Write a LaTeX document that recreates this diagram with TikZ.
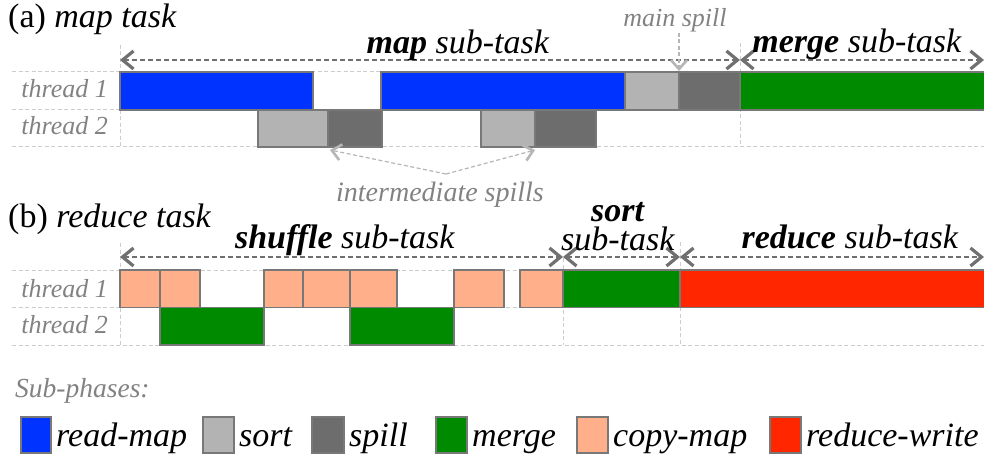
\documentclass[tikz,border=0pt]{standalone}
\usepackage{fontspec}
\setmainfont{Liberation Serif}
\usetikzlibrary{arrows.meta}
\definecolor{readmap}{RGB}{0,51,255}
\definecolor{sortc}{RGB}{179,179,179}
\definecolor{spillc}{RGB}{109,109,109}
\definecolor{mergec}{RGB}{0,138,0}
\definecolor{copyc}{RGB}{255,176,138}
\definecolor{redc}{RGB}{255,38,0}
\definecolor{edgec}{RGB}{120,120,120}
\definecolor{gridc}{RGB}{205,205,205}
\definecolor{arrc}{RGB}{112,112,112}
\definecolor{lightarr}{RGB}{182,182,182}
\definecolor{labelc}{RGB}{130,130,130}
\tikzset{
  bar/.style={draw=edgec, line width=1.5pt},
  gridline/.style={gridc, line width=1pt, dash pattern=on 4pt off 2.5pt},
  barb/.tip={Straight Barb[length=11pt,width=18pt,line width=3.2pt]},
  lbarb/.tip={Straight Barb[length=9pt,width=16pt,line width=2.6pt]},
  span/.style={arrc, line width=1.6pt, dash pattern=on 5pt off 3pt, barb-barb},
  hint/.style={lightarr, line width=1.2pt, dash pattern=on 4pt off 2.5pt, -lbarb},
  head/.style={font=\fontsize{34}{34}\selectfont, anchor=base, inner sep=0pt},
  thr/.style={font=\fontsize{26}{26}\selectfont\itshape, text=labelc, anchor=base east, inner sep=0pt},
  note/.style={font=\fontsize{26}{26}\selectfont\itshape, text=labelc, anchor=base, inner sep=0pt},
  leg/.style={font=\fontsize{34}{34}\selectfont\itshape, anchor=base west, inner sep=0pt},
}
\begin{document}
\begin{tikzpicture}[x=1pt,y=-1pt]
\useasboundingbox (0,0) rectangle (984,457);
% ---------- panel (a) ----------
\node[head, anchor=base west] (ta) at (8,28) {(a) \textit{map task}};
\foreach \yy in {72,110,147} \draw[gridline] (12,\yy) -- (984,\yy);
\draw[gridline] (120,45) -- (120,147);
\draw[gridline] (740,43) -- (740,147);
\node[thr] (a1) at (108,98) {thread 1};
\node[thr] (a2) at (108,135) {thread 2};
% thread 1
\draw[bar, fill=readmap] (120,72) rectangle (313,110);
\draw[bar, fill=readmap] (381,72) rectangle (625,110);
\draw[bar, fill=sortc] (625,72) rectangle (679,110);
\draw[bar, fill=spillc] (679,72) rectangle (740,110);
\draw[bar, fill=mergec] (740,72) rectangle (986,110);
% thread 2
\draw[bar, fill=sortc] (258,110) rectangle (328,147);
\draw[bar, fill=spillc] (328,110) rectangle (382,147);
\draw[bar, fill=sortc] (481,110) rectangle (535,147);
\draw[bar, fill=spillc] (535,110) rectangle (596,147);
% spans
\coordinate (ma0) at (120,60);
\coordinate (ma1) at (740,60);
\coordinate (ma2) at (984,60);
\draw[span] (ma0) -- (ma1);
\draw[span] (ma1) -- (ma2);
\node[head] (mapst) at (458,54) {\textbf{\textit{map}} \textit{sub-task}};
\node[head] (mergest) at (857,53) {\textbf{\textit{merge}} \textit{sub-task}};
% main spill
\node[note] (mspill) at (675,27) {main spill};
\coordinate (ms0) at (679,33);
\coordinate (ms1) at (679,71);
\draw[hint] (ms0) -- (ms1);
% intermediate spills
\coordinate (isp) at (446,174);
\coordinate (is1) at (330,150);
\coordinate (is2) at (535,150);
\draw[hint] (isp) -- (is1);
\draw[hint] (isp) -- (is2);
\node[note, font=\fontsize{28}{28}\selectfont\itshape] (ispl) at (440,201) {intermediate spills};
% ---------- panel (b) ----------
\node[head, anchor=base west] (tb) at (8,227) {(b) \textit{reduce task}};
\foreach \yy in {270,307.5,345} \draw[gridline] (12,\yy) -- (984,\yy);
\draw[gridline] (120,243) -- (120,345);
\draw[gridline] (563,258) -- (563,345);
\draw[gridline] (680,242) -- (680,345);
\node[thr] (b1) at (108,297) {thread 1};
\node[thr] (b2) at (108,333) {thread 2};
% thread 1
\foreach \xa/\xb in {120/160,160/200,264/303,303/350,350/397,454/504,520/563}
  \draw[bar, fill=copyc] (\xa,270) rectangle (\xb,307.5);
\draw[bar, fill=mergec] (563,270) rectangle (680,307.5);
\draw[bar, fill=redc] (680,270) rectangle (986,307.5);
% thread 2
\draw[bar, fill=mergec] (160,307.5) rectangle (264,345);
\draw[bar, fill=mergec] (350,307.5) rectangle (454,345);
% spans
\coordinate (rb0) at (120,257);
\coordinate (rb1) at (563,257);
\coordinate (rb2) at (680,257);
\coordinate (rb3) at (984,257);
\draw[span] (rb0) -- (rb1);
\draw[span] (rb1) -- (rb2);
\draw[span] (rb2) -- (rb3);
\node[head] (shst) at (345,248) {\textbf{\textit{shuffle}} \textit{sub-task}};
\node[head] (sortb) at (618,221) {\textbf{\textit{sort}}};
\node[head] (sortst) at (618,250) {\textit{sub-task}};
\node[head] (redst) at (850,248) {\textbf{\textit{reduce}} \textit{sub-task}};
% ---------- legend ----------
\node[note, anchor=base west, font=\fontsize{27.5}{27.5}\selectfont\itshape] (subph) at (15,397) {Sub-phases:};
\foreach \xa/\xb/\col/\txt/\nm in {21/51/readmap/read-map/l1, 203/234/sortc/sort/l2, 312/344/spillc/spill/l3, 436/467/mergec/merge/l4, 577/608/copyc/copy-map/l5, 770/801/redc/reduce-write/l6}{
  \draw[bar, fill=\col] (\xa,417) rectangle (\xb,453);
  \node[leg] (\nm) at (\xb+5,446) {\txt};
}
\end{tikzpicture}
\end{document}
